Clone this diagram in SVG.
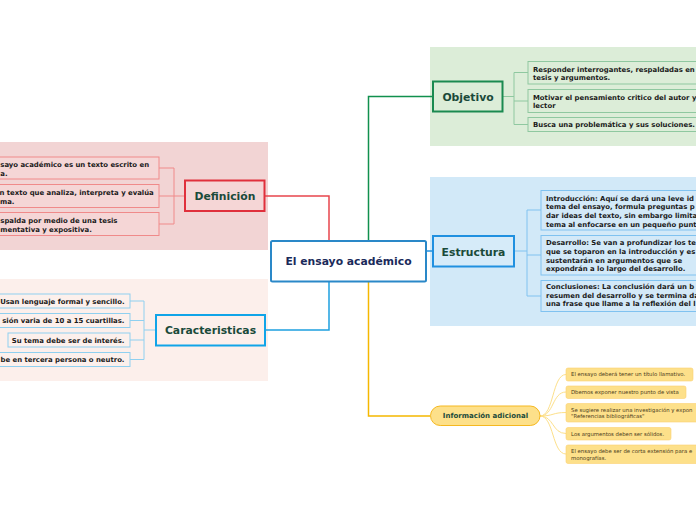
<svg xmlns="http://www.w3.org/2000/svg" width="696" height="520" viewBox="0 0 696 520">
<style>
text{font-family:"DejaVu Sans","Verdana",sans-serif;}
.t{font-size:6.9px;font-weight:bold;fill:#1a1a1a;}
.n{font-size:10.8px;font-weight:bold;fill:#1a4a3a;text-anchor:middle;}
.i{font-size:5.35px;fill:#4a3a1a;}
.c{fill:none;stroke-width:1.5;}
.cc{fill:none;stroke-width:1;}
.dbox{fill:#f5d6d6;stroke:#f08a8a;stroke-width:1;}
.kbox{fill:#fcf0ec;stroke:#8fd0f0;stroke-width:1;}
.obox{fill:#dcedd8;stroke:#8fc8a0;stroke-width:1;}
.ebox{fill:#d3e9f8;stroke:#80c2f0;stroke-width:1;}
.ibox{fill:#fde08a;stroke:#fcd070;stroke-width:0.6;}
</style>
<rect width="696" height="520" fill="#ffffff"/>
<!-- background regions -->
<rect x="0" y="142" width="268" height="108" fill="#f2d4d4"/>
<rect x="0" y="279" width="268" height="102" fill="#fcefeb"/>
<rect x="430" y="47" width="266" height="99" fill="#dcedd8"/>
<rect x="430" y="177" width="266" height="149" fill="#d2e9f8"/>
<g id="connectors">
<path class="c" stroke="#e8454c" d="M265,196 H329 V241"/>
<path class="c" stroke="#1ea0e0" d="M266,330 H329 V281"/>
<path class="c" stroke="#10904e" d="M433,96.5 H368.5 V241"/>
<path class="c" stroke="#2090e0" d="M426,251 H433"/>
<path class="c" stroke="#f5b800" d="M368.5,281 V416 H430"/>
<path class="cc" stroke="#f08a8a" d="M185,196 H174 M174,168 V224 M159,168 H174 M159,196 H174 M159,224 H174"/>
<path class="cc" stroke="#8fd0f0" d="M155,330 H144 M144,301 V359.5 M130,301 H144 M130,320.5 H144 M130,340 H144 M130,359.5 H144"/>
<path class="cc" stroke="#8fc8a0" d="M503,96.5 H514 M514,72.5 V124.5 M514,72.5 H528 M514,101 H528 M514,124.5 H528"/>
<path class="cc" stroke="#80c2f0" d="M515,251 H527 M527,210 V296 M527,210 H541 M527,255 H541 M527,296 H541"/>
<g stroke="#fde08a" class="cc">
<path d="M540,416 C554,416 552,374.5 566,374.5"/>
<path d="M540,416 C554,416 552,392 566,392"/>
<path d="M540,416 C554,416 552,412.5 566,412.5"/>
<path d="M540,416 C554,416 552,433.5 566,433.5"/>
<path d="M540,416 C554,416 552,454 566,454"/>
</g>
</g>
<g id="central">
<rect x="271" y="241" width="155" height="40.5" rx="1.5" fill="#ffffff" stroke="#2a88c8" stroke-width="2"/>
<text x="348.5" y="265" class="n" style="fill:#1a2a5a">El ensayo académico</text>
</g>
<g id="definicion">
<rect x="185" y="180.5" width="79.5" height="30.5" fill="#f5d6d6" stroke="#e0303c" stroke-width="2"/>
<text x="225" y="200" class="n">Definición</text>
</g>
<g id="def-1">
<rect class="dbox" x="-5" y="157" width="164" height="22"/>
<text class="t" x="0.3" y="166.5">sayo académico es un texto escrito en</text>
<text class="t" x="0.3" y="175.5">a.</text>
</g>
<g id="def-2">
<rect class="dbox" x="-5" y="184.5" width="164" height="23"/>
<text class="t" x="-0.5" y="194.5">n texto que analiza, interpreta y evalúa</text>
<text class="t" x="0" y="203.5">ma.</text>
</g>
<g id="def-3">
<rect class="dbox" x="-5" y="212.5" width="164" height="23"/>
<text class="t" x="0.3" y="222.5">spalda por medio de una tesis</text>
<text class="t" x="0.3" y="231.5">mentativa y expositiva.</text>
</g>
<g id="caracteristicas">
<rect x="156" y="315" width="109" height="30.5" fill="#fcefeb" stroke="#10a4e8" stroke-width="2"/>
<text x="210.5" y="334" class="n">Caracteristicas</text>
</g>
<g id="car-1">
<rect class="kbox" x="-5" y="294" width="135" height="14"/>
<text class="t" x="124.5" y="303.5" text-anchor="end">Usan lenguaje formal y sencillo.</text>
</g>
<g id="car-2">
<rect class="kbox" x="-5" y="313.5" width="135" height="14"/>
<text class="t" x="124.5" y="323" text-anchor="end">sión varia de 10 a 15 cuartillas.</text>
</g>
<g id="car-3">
<rect class="kbox" x="8" y="333" width="122" height="14"/>
<text class="t" x="124.5" y="342.5" text-anchor="end">Su tema debe ser de interés.</text>
</g>
<g id="car-4">
<rect class="kbox" x="-5" y="352.5" width="135" height="14"/>
<text class="t" x="124.5" y="362" text-anchor="end">be en tercera persona o neutro.</text>
</g>
<g id="objetivo">
<rect x="433" y="81.5" width="69.5" height="30" fill="#dcedd8" stroke="#1a8a50" stroke-width="2"/>
<text x="468" y="100.5" class="n">Objetivo</text>
</g>
<g id="obj-1">
<rect class="obox" x="528" y="61.5" width="175" height="22.5"/>
<text class="t" x="533" y="71.5">Responder interrogantes, respaldadas en</text>
<text class="t" x="533" y="80">tesis y argumentos.</text>
</g>
<g id="obj-2">
<rect class="obox" x="528" y="89.5" width="175" height="23"/>
<text class="t" x="533" y="99.5">Motivar el pensamiento critico del autor y</text>
<text class="t" x="533" y="108">lector</text>
</g>
<g id="obj-3">
<rect class="obox" x="528" y="117.5" width="175" height="14"/>
<text class="t" x="533" y="127.3">Busca una problemática y sus soluciones.</text>
</g>
<g id="estructura">
<rect x="433" y="236" width="81" height="30.5" fill="#d6ebf9" stroke="#2090e0" stroke-width="2"/>
<text x="473.5" y="255.5" class="n">Estructura</text>
</g>
<g id="est-1">
<rect class="ebox" x="541" y="190.5" width="165" height="39.5"/>
<text class="t" x="546" y="200.5">Introducción: Aquí se dará una leve id</text>
<text class="t" x="546" y="209.2">tema del ensayo, formula preguntas p</text>
<text class="t" x="546" y="217.9">dar ideas del texto, sin embargo limita</text>
<text class="t" x="546" y="226.6">tema al enfocarse en un pequeño punt</text>
</g>
<g id="est-2">
<rect class="ebox" x="541" y="235.5" width="165" height="39.5"/>
<text class="t" x="546" y="245.3">Desarrollo: Se van a profundizar los te</text>
<text class="t" x="546" y="254">que se toparon en la introducción y es</text>
<text class="t" x="546" y="262.7">sustentarán en argumentos que se</text>
<text class="t" x="546" y="271.2">expondrán a lo largo del desarrollo.</text>
</g>
<g id="est-3">
<rect class="ebox" x="541" y="280.5" width="165" height="31"/>
<text class="t" x="546" y="288.7">Conclusiones: La conclusión dará un b</text>
<text class="t" x="546" y="297.5">resumen del desarrollo y se termina da</text>
<text class="t" x="546" y="306.2">una frase que llame a la reflexión del l</text>
</g>
<g id="info">
<rect x="430.5" y="406" width="109.5" height="19.5" rx="9.75" fill="#fde08a" stroke="#f5b820" stroke-width="1"/>
<text x="485.5" y="418.3" class="n" style="font-size:7px">Información adicional</text>
</g>
<g id="info-1">
<rect class="ibox" x="566" y="368" width="127" height="13" rx="2"/>
<text class="i" x="571" y="376.4">El ensayo deberá tener un título llamativo.</text>
</g>
<g id="info-2">
<rect class="ibox" x="566" y="386" width="120" height="12.5" rx="2"/>
<text class="i" x="571" y="394.2">Dbemos exponer nuestro punto de vista</text>
</g>
<g id="info-3">
<rect class="ibox" x="566" y="403.5" width="135" height="18.5" rx="2"/>
<text class="i" x="571" y="412">Se sugiere realizar una investigación y expon</text>
<text class="i" x="571" y="418.3">"Referencias bibliográficas"</text>
</g>
<g id="info-4">
<rect class="ibox" x="566" y="427.5" width="105" height="12.5" rx="2"/>
<text class="i" x="571" y="435.6">Los argumentos deben ser sólidos.</text>
</g>
<g id="info-5">
<rect class="ibox" x="566" y="445" width="135" height="18.5" rx="2"/>
<text class="i" x="571" y="453">El ensayo debe ser de corta extensión para e</text>
<text class="i" x="571" y="459.6">monografías.</text>
</g>
</svg>
